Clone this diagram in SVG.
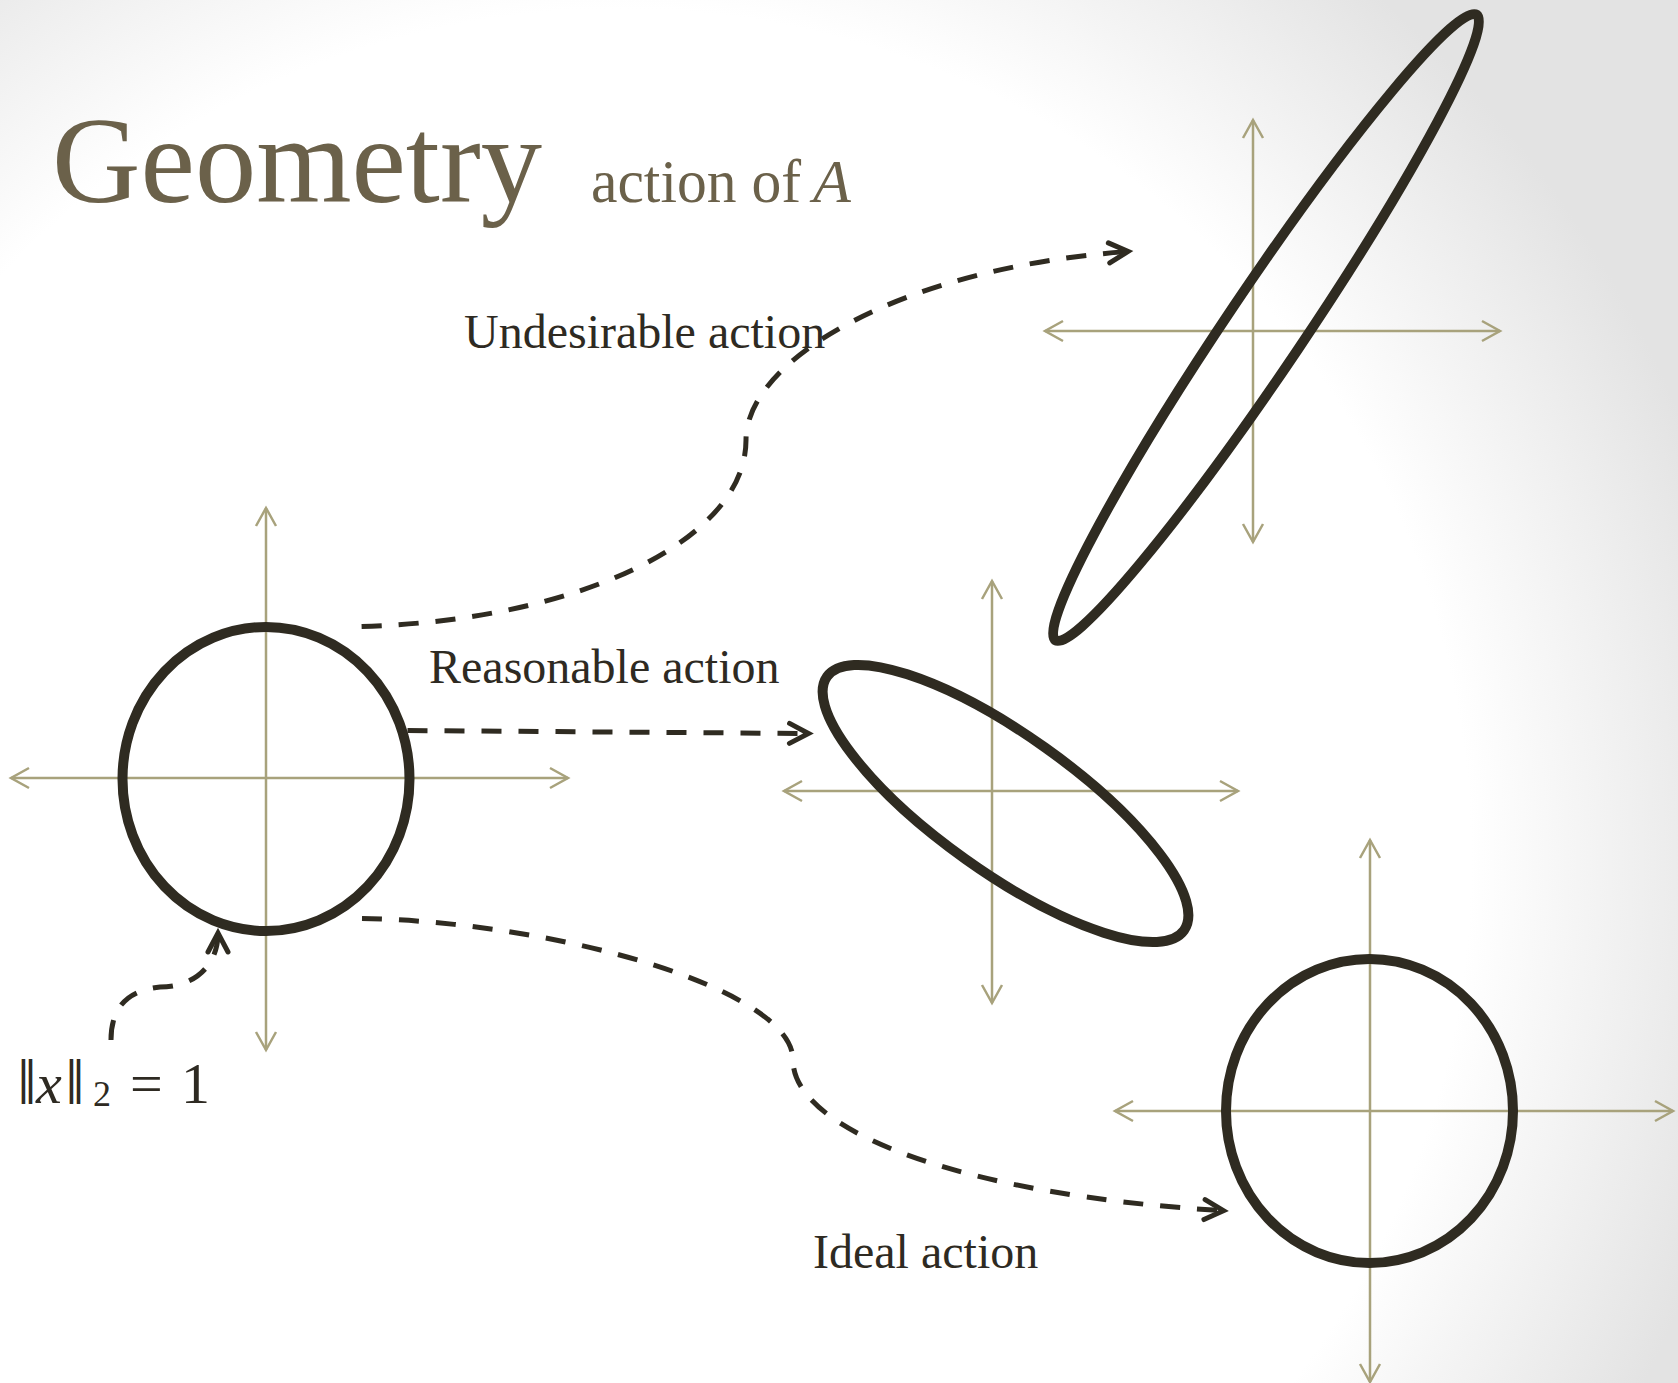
<svg xmlns="http://www.w3.org/2000/svg" width="1678" height="1383" viewBox="0 0 1678 1383">
<defs>
<radialGradient id="bg" gradientUnits="userSpaceOnUse" cx="620" cy="860" r="1150">
<stop offset="0" stop-color="#ffffff"/>
<stop offset="0.74" stop-color="#ffffff"/>
<stop offset="1" stop-color="#e3e3e3"/>
</radialGradient>
<marker id="ax" markerUnits="userSpaceOnUse" orient="auto-start-reverse" refX="0" refY="0" markerWidth="30" markerHeight="30" overflow="visible">
<path d="M -18 -10 L 0 0 L -18 10" fill="none" stroke="#A8A27C" stroke-width="2.5"/>
</marker>
<marker id="arr" markerUnits="userSpaceOnUse" orient="auto" refX="0" refY="0" markerWidth="30" markerHeight="30" overflow="visible">
<path d="M -19 -10 L 0 0 L -19 10" fill="none" stroke="#2F2B21" stroke-width="5" stroke-linecap="round" stroke-linejoin="miter" stroke-dasharray="none"/>
</marker>
<style>
.axis{stroke:#A8A27C;stroke-width:2.5;fill:none;marker-start:url(#ax);marker-end:url(#ax)}
.shape{fill:none;stroke:#2F2B21;stroke-width:10}
.conn{fill:none;stroke:#2F2B21;stroke-width:5;stroke-dasharray:20 17;marker-end:url(#arr)}
.lbl{font-family:"Liberation Serif","Times New Roman",serif;font-size:48px;fill:#2E2A22}
.title{font-family:"Liberation Serif","Times New Roman",serif;fill:#6B614A}
.bar{font-family:"DejaVu Serif","DejaVu Sans",serif;font-size:44px}
</style>
</defs>
<rect x="0" y="0" width="1678" height="1383" fill="url(#bg)"/>

<g id="title">
<text class="title" x="52" y="201.7" font-size="123" textLength="490" lengthAdjust="spacingAndGlyphs">Geometry</text>
<text class="title" x="591" y="201.5" font-size="62"><tspan textLength="210" lengthAdjust="spacingAndGlyphs">action of</tspan><tspan x="813" font-style="italic">A</tspan></text>
</g>

<g id="unit-circle">
<line class="axis" x1="11" y1="778" x2="568" y2="778"/>
<line class="axis" x1="266" y1="1050" x2="266" y2="508"/>
<ellipse class="shape" cx="266" cy="779" rx="143.5" ry="152"/>
</g>

<g id="reasonable-ellipse">
<line class="axis" x1="784" y1="791" x2="1238" y2="791"/>
<line class="axis" x1="992" y1="1003" x2="992" y2="581"/>
<ellipse class="shape" cx="1005.5" cy="803.5" rx="219" ry="68.5" transform="rotate(35.4 1005.5 803.5)"/>
</g>

<g id="undesirable-ellipse">
<line class="axis" x1="1045" y1="331" x2="1500" y2="331"/>
<line class="axis" x1="1253" y1="542" x2="1253" y2="120"/>
<ellipse class="shape" cx="1266" cy="327.5" rx="377" ry="38.7" transform="rotate(-56.05 1266 327.5)"/>
</g>

<g id="ideal-circle">
<line class="axis" x1="1115" y1="1111" x2="1673" y2="1111"/>
<line class="axis" x1="1370" y1="1382" x2="1370" y2="840"/>
<ellipse class="shape" cx="1369.5" cy="1111" rx="143.5" ry="152"/>
</g>

<g id="labels">
<text class="lbl" x="464" y="347.7">Undesirable action</text>
<text class="lbl" x="429" y="683">Reasonable action</text>
<text class="lbl" x="813" y="1268">Ideal action</text>
<text id="norm-label" font-family="'Liberation Serif','DejaVu Serif',serif" font-size="58" fill="#2E2A22" y="1102.7"><tspan class="bar" x="16" y="1093">‖</tspan><tspan x="36" y="1102.7" font-style="italic">x</tspan><tspan class="bar" x="64" y="1093">‖</tspan><tspan x="93" y="1106" font-size="36">2</tspan><tspan x="130" y="1102.7">=</tspan><tspan x="181">1</tspan></text>
</g>

<g id="connectors">
<path class="conn" d="M 361.6 626.6 C 580 620, 746 540, 746 440 C 746 360, 900 268, 1128 251.5"/>
<path class="conn" d="M 407.5 730.5 L 808.5 733.5"/>
<path class="conn" d="M 362 918.5 C 560 922, 793 990, 793 1060 C 793 1130, 960 1195, 1223.5 1210.7"/>
<path class="conn" d="M 111 1040 C 111 1005, 130 990, 160 987 C 195 987, 218 965, 218 933"/>
</g>
</svg>
